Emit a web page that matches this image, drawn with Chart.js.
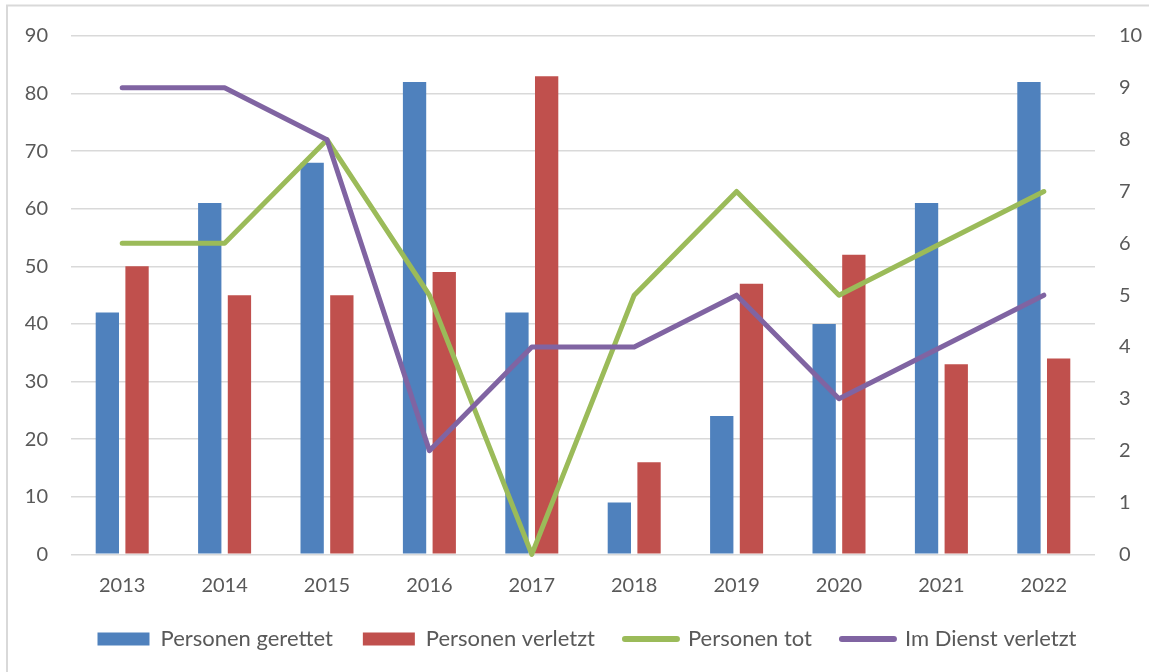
<!DOCTYPE html>
<html lang="de">
<head>
<meta charset="utf-8">
<title>Einsätze 2013–2022</title>
<script src="https://cdn.jsdelivr.net/npm/chart.js@4/dist/chart.umd.min.js"></script>
<style>
  html, body { margin: 0; padding: 0; background: #ffffff; }
  #wrap { position: relative; width: 1149px; height: 672px; }
  canvas { display: block; }
</style>
</head>
<body>
<div id="wrap"><canvas id="chart" width="1149" height="672"></canvas></div>
<script>
// Jahre (Kategorien der x-Achse)
const years = ['2013', '2014', '2015', '2016', '2017', '2018', '2019', '2020', '2021', '2022'];

// Balken, linke Achse
const personenGerettet = [42, 61, 68, 82, 42, 9, 24, 40, 61, 82];
const personenVerletzt = [50, 45, 45, 49, 83, 16, 47, 52, 33, 34];

// Linien, rechte Achse
const personenTot = [6, 6, 8, 5, 0, 5, 7, 5, 6, 7];
const imDienstVerletzt = [9, 9, 8, 2, 4, 4, 5, 3, 4, 5];

// Achsenbereiche
const leftAxis = { min: 0, max: 90, step: 10 };
const rightAxis = { min: 0, max: 10, step: 1 };

const seriesNames = ['Personen gerettet', 'Personen verletzt', 'Personen tot', 'Im Dienst verletzt'];

const TEXT = '#595959';
const GRID = '#d9d9d9';
const FONT = 'Lato';

// thin frame along the top and left edge of the chart
const framePlugin = {
  id: 'frame',
  beforeDraw(chart) {
    const ctx = chart.ctx;
    ctx.save();
    ctx.strokeStyle = GRID;
    ctx.lineWidth = 2;
    ctx.beginPath();
    ctx.moveTo(7, chart.height + 2);
    ctx.lineTo(7, 5.5);
    ctx.lineTo(chart.width + 2, 5.5);
    ctx.stroke();
    ctx.restore();
  }
};

new Chart(document.getElementById('chart'), {
  data: {
    labels: years,
    datasets: [
      {
        type: 'bar', label: seriesNames[0], data: personenGerettet, yAxisID: 'y',
        backgroundColor: '#4f81bd', borderWidth: 0, order: 3,
        barPercentage: 0.785, categoryPercentage: 0.58
      },
      {
        type: 'bar', label: seriesNames[1], data: personenVerletzt, yAxisID: 'y',
        backgroundColor: '#c0504d', borderWidth: 0, order: 3,
        barPercentage: 0.785, categoryPercentage: 0.58
      },
      {
        type: 'line', label: seriesNames[2], data: personenTot, yAxisID: 'y1',
        borderColor: '#9bbb59', backgroundColor: '#9bbb59', borderWidth: 5,
        borderCapStyle: 'round', borderJoinStyle: 'round',
        pointRadius: 0, pointHoverRadius: 0, tension: 0, fill: false, clip: false, order: 2
      },
      {
        type: 'line', label: seriesNames[3], data: imDienstVerletzt, yAxisID: 'y1',
        borderColor: '#8064a2', backgroundColor: '#8064a2', borderWidth: 5,
        borderCapStyle: 'round', borderJoinStyle: 'round',
        pointRadius: 0, pointHoverRadius: 0, tension: 0, fill: false, clip: false, order: 1
      }
    ]
  },
  options: {
    responsive: false,
    animation: false,
    devicePixelRatio: 1,
    layout: { padding: { left: 25, right: 0, top: 22, bottom: 12 } },
    plugins: {
      legend: {
        position: 'bottom',
        align: 'center',
        labels: {
          color: TEXT,
          font: { family: FONT, size: 22 },
          usePointStyle: true,
          pointStyleWidth: 52,
          boxHeight: 13,
          padding: 30,
          sort: (a, b) => a.datasetIndex - b.datasetIndex,
          generateLabels(chart) {
            const items = Chart.defaults.plugins.legend.labels.generateLabels(chart);
            items.forEach(it => {
              const ds = chart.data.datasets[it.datasetIndex];
              if (ds.type === 'line') {
                it.pointStyle = 'line';
                it.lineWidth = 6;
                it.lineCap = 'round';
                it.strokeStyle = ds.borderColor;
              } else {
                it.pointStyle = 'rect';
                it.lineWidth = 0;
              }
            });
            return items;
          }
        }
      },
      tooltip: { enabled: false }
    },
    scales: {
      x: {
        grid: { display: false, drawTicks: false },
        border: { display: false },
        ticks: { color: TEXT, font: { family: FONT, size: 20 }, padding: 19.4, maxRotation: 0 },
        afterFit(scale) { scale.height = 43.7; }
      },
      y: {
        position: 'left',
        min: leftAxis.min, max: leftAxis.max,
        ticks: { stepSize: leftAxis.step, color: TEXT, font: { family: FONT, size: 20 }, padding: 23 },
        grid: { color: GRID, lineWidth: 1.5, drawTicks: false },
        border: { display: false },
        afterFit(scale) { scale.width = 46; }
      },
      y1: {
        position: 'right',
        min: rightAxis.min, max: rightAxis.max,
        ticks: { stepSize: rightAxis.step, color: TEXT, font: { family: FONT, size: 20 }, padding: 24 },
        grid: { display: false, drawTicks: false },
        border: { display: false },
        afterFit(scale) { scale.width = 54; }
      }
    }
  },
  plugins: [framePlugin]
});
</script>
</body>
</html>
